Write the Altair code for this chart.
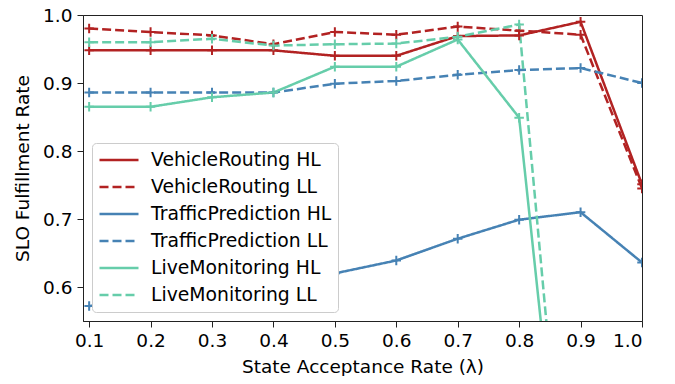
import altair as alt
import pandas as pd

x_vals = [0.1, 0.2, 0.3, 0.4, 0.5, 0.6, 0.7, 0.8, 0.9, 1.0]
series_names = ["VehicleRouting HL", "VehicleRouting LL", "TrafficPrediction HL",
                "TrafficPrediction LL", "LiveMonitoring HL", "LiveMonitoring LL"]
vr_hl = [0.948, 0.948, 0.948, 0.948, 0.940, 0.940, 0.969, 0.970, 0.990, 0.751]
vr_ll = [0.980, 0.975, 0.970, 0.957, 0.975, 0.971, 0.983, 0.977, 0.971, 0.745]
tp_hl = [0.572, 0.580, 0.590, 0.600, 0.620, 0.639, 0.671, 0.699, 0.710, 0.636]
tp_ll = [0.886, 0.886, 0.886, 0.886, 0.899, 0.903, 0.912, 0.919, 0.922, 0.900]
lm_hl = [0.865, 0.865, 0.879, 0.886, 0.924, 0.924, 0.964, 0.849, 0.0, 0.0]
lm_ll = [0.960, 0.960, 0.965, 0.955, 0.957, 0.958, 0.968, 0.986, 0.0, 0.0]
colors = ["#b22222", "#b22222", "#4682b4", "#4682b4", "#66cdaa", "#66cdaa"]
dashes = [[1, 0], [9, 4], [1, 0], [9, 4], [1, 0], [9, 4]]
x_ticks = [0.1, 0.2, 0.3, 0.4, 0.5, 0.6, 0.7, 0.8, 0.9, 1.0]
y_ticks = [0.6, 0.7, 0.8, 0.9, 1.0]

all_series = [vr_hl, vr_ll, tp_hl, tp_ll, lm_hl, lm_ll]
rows = []
for si, (name, vals) in enumerate(zip(series_names, all_series)):
    for xv, yv in zip(x_vals, vals):
        rows.append({"x": xv, "y": yv, "series": name, "order": si})
df = pd.DataFrame(rows)

FONT = "DejaVu Sans"
x_enc = alt.X("x:Q",
              scale=alt.Scale(domain=[0.09, 1.0], nice=False, zero=False),
              axis=alt.Axis(values=x_ticks, format=".1f", title="State Acceptance Rate (λ)",
                            grid=False, tickSize=6, labelPadding=4, titlePadding=8,
                            labelFontSize=18.5, titleFontSize=18.5, labelFont=FONT, titleFont=FONT,
                            titleFontWeight="normal", labelColor="black", titleColor="black",
                            tickColor="#222", domainColor="#222"))
y_enc = alt.Y("y:Q",
              scale=alt.Scale(domain=[0.55, 1.0], nice=False, zero=False),
              axis=alt.Axis(values=y_ticks, format=".1f", title="SLO Fulfillment Rate",
                            grid=False, tickSize=6, labelPadding=5, titlePadding=10,
                            labelFontSize=18.5, titleFontSize=18.5, labelFont=FONT, titleFont=FONT,
                            titleFontWeight="normal", labelColor="black", titleColor="black",
                            tickColor="#222", domainColor="#222"))

color_scale = alt.Scale(domain=series_names, range=colors)
dash_scale = alt.Scale(domain=series_names, range=dashes)

legend = alt.Legend(title=None, orient="none", legendX=9, legendY=128,
                    symbolType="stroke", symbolSize=1521, symbolStrokeWidth=2.5,
                    labelFontSize=18.8, labelFont=FONT, labelColor="black", labelOffset=11,
                    labelLimit=400, padding=6, rowPadding=5, clipHeight=22,
                    fillColor="#ffffff",
                    strokeColor="#cccccc", cornerRadius=4)

base = alt.Chart(df)
lines = base.mark_line(clip=True, strokeWidth=2.5).encode(
    x=x_enc, y=y_enc,
    color=alt.Color("series:N", scale=color_scale, legend=legend, sort=series_names),
    strokeDash=alt.StrokeDash("series:N", scale=dash_scale, legend=legend, sort=series_names),
    order=alt.Order("x:Q"),
)
points = base.mark_point(clip=True, shape="M-1,0H1M0,-1V1", size=90, strokeWidth=2,
                         filled=False, opacity=1).encode(
    x=x_enc, y=y_enc,
    color=alt.Color("series:N", scale=color_scale, legend=None),
)

chart = alt.layer(lines, points).properties(
    width=559, height=306,
    autosize=alt.AutoSizeParams(type="none"),
    padding={"left": 75, "top": 7, "right": 25, "bottom": 55},
).configure_view(stroke="#222", strokeWidth=1)

chart.save("out.html", embed_options={"renderer": "svg", "actions": False})
